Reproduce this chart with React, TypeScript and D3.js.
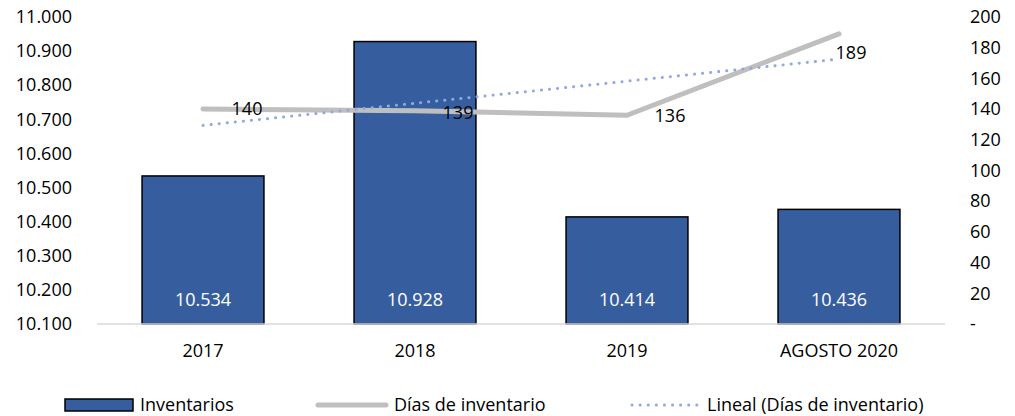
import { useEffect, useRef } from 'react'
import * as d3 from 'd3'

const categories = ['2017', '2018', '2019', 'AGOSTO 2020']
const inventarios = [10.534, 10.928, 10.414, 10.436]
const diasInventario = [140, 139, 136, 189]
// label offsets for the line values (placed by hand in the original)
const diasLabelDx = [44, 43, 43, 12]
const diasLabelDy = [0, 2, 0, 19]
const leftTicks = [10.1, 10.2, 10.3, 10.4, 10.5, 10.6, 10.7, 10.8, 10.9, 11.0]
const rightTicks = [0, 20, 40, 60, 80, 100, 120, 140, 160, 180, 200]

const fmt = (v: number) => v.toFixed(3)
const FONT = '"Open Sans", sans-serif'
const FS = 18

function App() {
    const ref = useRef<SVGSVGElement>(null)

    useEffect(() => {
        const width = 1015
        const height = 416
        const margin = { top: 17, right: 70, bottom: 92, left: 97 }
        const plotW = width - margin.left - margin.right
        const plotH = height - margin.top - margin.bottom

        const svg = d3.select(ref.current)
        svg.selectAll('*').remove()

        const x = d3.scaleBand().domain(categories).range([0, plotW]).paddingInner(0.425).paddingOuter(0.2125)
        const yLeft = d3.scaleLinear().domain([10.1, 11.0]).range([plotH, 0])
        const yRight = d3.scaleLinear().domain([0, 200]).range([plotH, 0])

        const g = svg.append('g').attr('transform', `translate(${margin.left},${margin.top})`)

        // left axis
        const leftAxis = g.append('g')
            .call(d3.axisLeft(yLeft).tickValues(leftTicks).tickSize(0).tickPadding(25).tickFormat(d => fmt(d as number)))
        leftAxis.select('.domain').remove()
        leftAxis.selectAll('text').attr('font-family', FONT).attr('font-size', FS).attr('fill', '#000')

        // right axis
        const rightAxis = g.append('g').attr('transform', `translate(${plotW},0)`)
            .call(d3.axisRight(yRight).tickValues(rightTicks).tickSize(0).tickPadding(25).tickFormat(d => (d as number) === 0 ? '-' : String(d)))
        rightAxis.select('.domain').remove()
        rightAxis.selectAll('text').attr('font-family', FONT).attr('font-size', FS).attr('fill', '#000')

        // bars
        g.selectAll('rect.bar')
            .data(inventarios)
            .join('rect')
            .attr('class', 'bar')
            .attr('x', (_, i) => x(categories[i])!)
            .attr('width', x.bandwidth())
            .attr('y', d => yLeft(d))
            .attr('height', d => plotH - yLeft(d))
            .attr('fill', '#365e9f')
            .attr('stroke', '#000')
            .attr('stroke-width', 1.5)

        g.selectAll('text.barlabel')
            .data(inventarios)
            .join('text')
            .attr('class', 'barlabel')
            .attr('x', (_, i) => x(categories[i])! + x.bandwidth() / 2)
            .attr('y', plotH - 24)
            .attr('dy', '0.35em')
            .attr('text-anchor', 'middle')
            .attr('font-family', FONT)
            .attr('font-size', FS)
            .attr('fill', '#fff')
            .text(d => fmt(d))

        // x baseline
        g.append('line')
            .attr('x1', 0).attr('x2', plotW)
            .attr('y1', plotH).attr('y2', plotH)
            .attr('stroke', '#d9d9d9').attr('stroke-width', 1.5)

        // x labels
        const xAxis = g.append('g').attr('transform', `translate(0,${plotH})`)
            .call(d3.axisBottom(x).tickSize(0).tickPadding(20))
        xAxis.select('.domain').remove()
        xAxis.selectAll('text').attr('font-family', FONT).attr('font-size', FS).attr('fill', '#000')

        const cx = (i: number) => x(categories[i])! + x.bandwidth() / 2

        // linear trend of dias
        const n = diasInventario.length
        const xs = diasInventario.map((_, i) => i + 1)
        const mx = d3.mean(xs)!
        const my = d3.mean(diasInventario)!
        const slope = d3.sum(xs, (xi, i) => (xi - mx) * (diasInventario[i] - my)) / d3.sum(xs, xi => (xi - mx) ** 2)
        const intercept = my - slope * mx
        const trend = [0, n - 1].map(i => ({ i, v: intercept + slope * (i + 1) }))

        const line = d3.line<number>()
            .x((_, i) => cx(i))
            .y(d => yRight(d))

        g.append('path')
            .datum(diasInventario)
            .attr('d', line)
            .attr('fill', 'none')
            .attr('stroke', '#bfbfbf')
            .attr('stroke-width', 5)
            .attr('stroke-linecap', 'round')
            .attr('stroke-linejoin', 'round')

        g.append('path')
            .datum(trend)
            .attr('d', d3.line<{ i: number; v: number }>().x(d => cx(d.i)).y(d => yRight(d.v)))
            .attr('fill', 'none')
            .attr('stroke', '#8faadc')
            .attr('stroke-width', 3)
            .attr('stroke-linecap', 'round')
            .attr('stroke-dasharray', '0.1 8')

        g.selectAll('text.dias')
            .data(diasInventario)
            .join('text')
            .attr('class', 'dias')
            .attr('x', (_, i) => cx(i) + diasLabelDx[i])
            .attr('y', (d, i) => yRight(d) + diasLabelDy[i])
            .attr('dy', '0.35em')
            .attr('text-anchor', 'middle')
            .attr('font-family', FONT)
            .attr('font-size', FS)
            .attr('fill', '#000')
            .text(d => String(d))

        // legend
        const lg = svg.append('g').attr('transform', `translate(0,405)`)
        lg.append('rect').attr('x', 65).attr('y', -6).attr('width', 68).attr('height', 12)
            .attr('fill', '#365e9f').attr('stroke', '#000').attr('stroke-width', 1.5)
        lg.append('text').attr('x', 140).attr('dy', '0.35em').attr('font-family', FONT).attr('font-size', FS).text('Inventarios')

        lg.append('line').attr('x1', 318).attr('x2', 386).attr('y1', 0).attr('y2', 0)
            .attr('stroke', '#bfbfbf').attr('stroke-width', 5).attr('stroke-linecap', 'round')
        lg.append('text').attr('x', 394).attr('dy', '0.35em').attr('font-family', FONT).attr('font-size', FS).text('Días de inventario')

        lg.append('line').attr('x1', 632).attr('x2', 700).attr('y1', 0).attr('y2', 0)
            .attr('stroke', '#8faadc').attr('stroke-width', 3).attr('stroke-linecap', 'round').attr('stroke-dasharray', '0.1 8')
        lg.append('text').attr('x', 707).attr('dy', '0.35em').attr('font-family', FONT).attr('font-size', FS).text('Lineal (Días de inventario)')
    }, [])

    return (
        <svg
            ref={ref}
            width={1015}
            height={416}
            style={{ display: 'block', position: 'absolute', left: 0, top: 0, background: '#fff' }}
        />
    )
}

export default App
